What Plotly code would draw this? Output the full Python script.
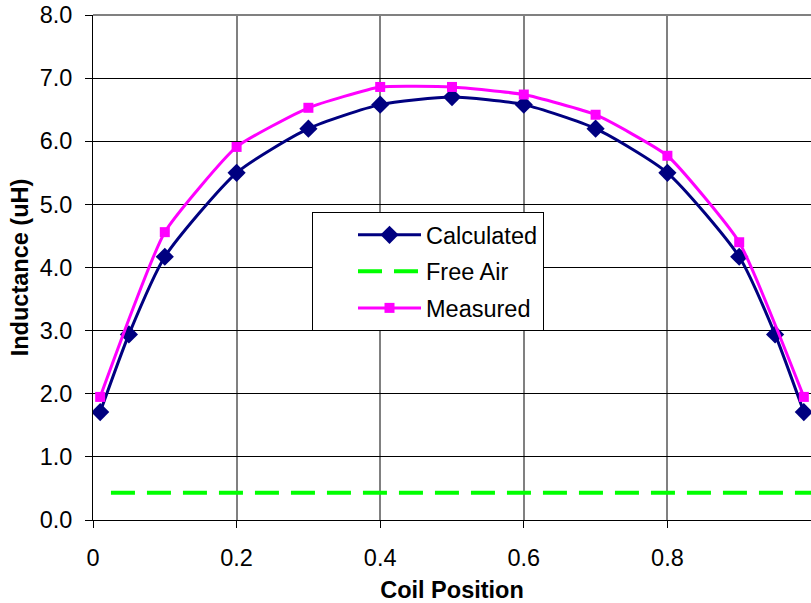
import plotly.graph_objects as go

# Data
calc_x = [0.01, 0.05, 0.1, 0.2, 0.3, 0.4, 0.5, 0.6, 0.7, 0.8, 0.9, 0.95, 0.99]
calc_y = [1.71, 2.94, 4.17, 5.50, 6.20, 6.58, 6.70, 6.58, 6.20, 5.50, 4.17, 2.94, 1.71]

meas_x = [0.01, 0.1, 0.2, 0.3, 0.4, 0.5, 0.6, 0.7, 0.8, 0.9, 0.99]
meas_y = [1.95, 4.56, 5.91, 6.53, 6.86, 6.86, 6.74, 6.42, 5.77, 4.40, 1.95]

air_x = [0.025, 1.0]
air_y = [0.43, 0.43]

x_ticks = [0, 0.2, 0.4, 0.6, 0.8, 1]
x_labels = ["0", "0.2", "0.4", "0.6", "0.8", "1"]
y_ticks = [0, 1, 2, 3, 4, 5, 6, 7, 8]
y_labels = ["0.0", "1.0", "2.0", "3.0", "4.0", "5.0", "6.0", "7.0", "8.0"]

FONT = "Liberation Sans, Arial, sans-serif"
FS = 23.5

fig = go.Figure()
fig.add_trace(go.Scatter(
    x=calc_x, y=calc_y, name="Calculated", mode="lines+markers",
    line=dict(color="#000080", width=3, shape="spline", smoothing=0.6),
    marker=dict(symbol="diamond", size=14, color="#000080"),
    legendgroup="a"))
fig.add_trace(go.Scatter(
    x=air_x, y=air_y, name="Free Air", mode="lines",
    line=dict(color="#00FF00", width=4, dash="24px,12px"),
    legendgroup="b"))
fig.add_trace(go.Scatter(
    x=meas_x, y=meas_y, name="Measured", mode="lines+markers",
    line=dict(color="#FF00FF", width=3, shape="spline", smoothing=0.45),
    marker=dict(symbol="square", size=10, color="#FF00FF"),
    legendgroup="c"))

# gray top border of plot area
fig.add_shape(type="line", xref="paper", yref="paper", x0=0, x1=1, y0=1, y1=1,
              line=dict(color="#808080", width=2), layer="above")

fig.update_layout(
    width=811, height=603,
    margin=dict(l=93, r=0, t=15, b=83),
    paper_bgcolor="white", plot_bgcolor="white",
    font=dict(family=FONT, size=FS, color="black"),
    showlegend=True,
    legend=dict(
        x=(312 - 93) / 718, y=(520 - 212) / 505, xanchor="left", yanchor="top",
        bgcolor="white", bordercolor="black", borderwidth=1,
        font=dict(size=FS), indentation=40, itemwidth=63, tracegroupgap=3,
    ),
    xaxis=dict(
        range=[0, 1], tickvals=x_ticks, ticktext=x_labels,
        showgrid=True, gridcolor="#808080", gridwidth=2,
        showline=True, linecolor="black", linewidth=1,
        ticks="outside", ticklen=7, tickcolor="black",
        zeroline=False, automargin=False,
        title=dict(text="<b>Coil Position</b>", font=dict(size=FS), standoff=14),
        ticklabelstandoff=10,
    ),
    yaxis=dict(
        range=[0, 8], tickvals=y_ticks, ticktext=y_labels,
        showgrid=True, gridcolor="black", gridwidth=1,
        showline=True, linecolor="black", linewidth=1,
        ticks="outside", ticklen=7, tickcolor="black",
        zeroline=False, automargin=False,
        title=dict(text="<b>Inductance (uH)</b>", font=dict(size=FS), standoff=4),
        ticklabelstandoff=8,
    ),
)

fig.write_html(
    "out.html",
    config={"displayModeBar": False},
    post_script="document.body.style.margin='0';document.body.style.overflow='hidden';",
)
